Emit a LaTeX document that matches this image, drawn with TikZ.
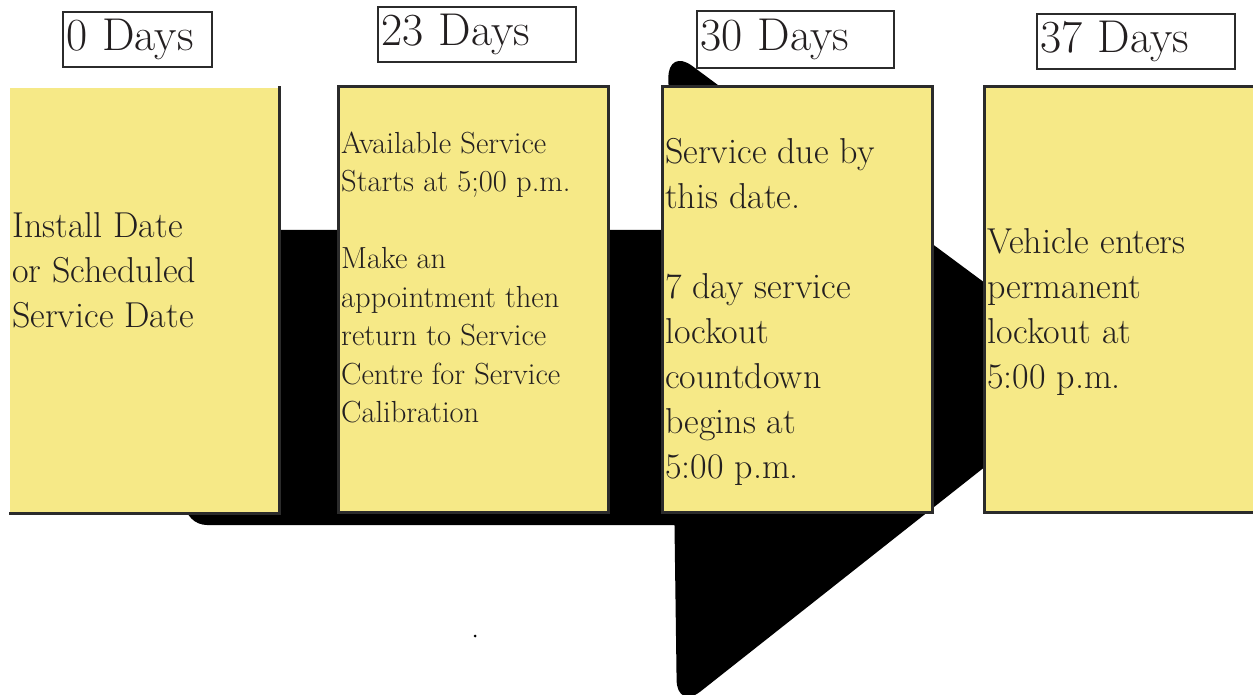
\documentclass[tikz,border=0pt]{standalone}
\usepackage{fontspec}
\definecolor{notefill}{RGB}{246,233,135}
\definecolor{noteline}{RGB}{43,43,43}
\definecolor{inktext}{RGB}{35,31,32}

\begin{document}
\begin{tikzpicture}[x=1pt,y=-1pt]

      \useasboundingbox (0,0) rectangle (1253,695);

      % big arrow behind the notes
      \fill[rounded corners=22pt] (185,230) rectangle (720,525);
      \fill[rounded corners=30pt] (668,48) -- (1105,372) -- (677,710) -- cycle;
      \fill (475,636) circle (1.5);

      \begin{scope}[every node/.style={fill=notefill, draw=noteline, line width=3pt, inner sep=0pt}]
        \node[draw=none, minimum width=268pt, minimum height=424pt] (1) at (144,300) {};
        \node[minimum width=270pt, minimum height=425pt] (2) at (473,299.5) {};
        \node[minimum width=270pt, minimum height=425pt] (3) at (797,299.5) {};
        \node[minimum width=272pt, minimum height=425pt] (4) at (1120,299.5) {};
      \end{scope}
      \draw[noteline, line width=3pt] (1.north east) -- (1.south east) -- (1.south west);

      \begin{scope}[every node/.style={draw=noteline, line width=2.5pt, text=inktext, align=left,
          font=\fontsize{46}{46}\selectfont, inner xsep=3pt, inner ysep=0pt, minimum height=55pt}]
        \node[text width=143pt] (d0)  at (137.5,39.5) {0 Days};
        \node[text width=192pt] (d23) at (477,34.5)   {23 Days};
        \node[text width=191pt, minimum height=57pt] (d30) at (795.5,39.5) {30 Days};
        \node[text width=192pt] (d37) at (1136,41.5)  {37 Days};
      \end{scope}

      \begin{scope}[every node/.style={text=inktext, align=left, inner sep=0pt, anchor=north west}]
        \node[font=\fontsize{36}{45}\selectfont] (t1) at (12,212)
          {Install Date\\or Scheduled\\Service Date};
        \node[font=\fontsize{30.5}{38.5}\selectfont] (t2) at (341,131.5)
          {Available Service\\Starts at 5;00 p.m.\\[38.5pt]Make an\\appointment then\\return to Service\\Centre for Service\\Calibration};
        \node[font=\fontsize{36}{45}\selectfont] (t3) at (665,138)
          {Service due by\\this date.\\[45pt]7 day service\\lockout\\countdown\\begins at\\5:00 p.m.};
        \node[font=\fontsize{36}{45}\selectfont] (t4) at (987,228)
          {Vehicle enters\\permanent\\lockout at\\5:00 p.m.};
      \end{scope}

    \end{tikzpicture}
\end{document}
